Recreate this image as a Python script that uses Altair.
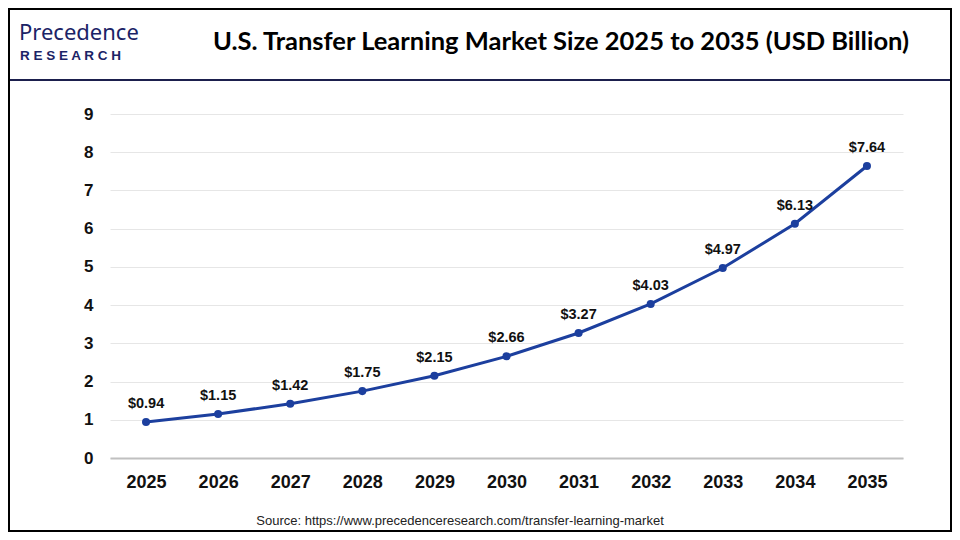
import altair as alt
import pandas as pd

years = ["2025", "2026", "2027", "2028", "2029", "2030", "2031", "2032", "2033", "2034", "2035"]
values = [0.94, 1.15, 1.42, 1.75, 2.15, 2.66, 3.27, 4.03, 4.97, 6.13, 7.64]
labels = ["$%.2f" % v for v in values]
y_ticks = [0, 1, 2, 3, 4, 5, 6, 7, 8, 9]

title_text = "U.S. Transfer Learning Market Size 2025 to 2035 (USD Billion)"
source_text = "Source: https://www.precedenceresearch.com/transfer-learning-market"

df = pd.DataFrame({"year": years, "value": values, "label": labels})

W, H = 793, 344
PL, PT, PR, PB = 102, 106, 49, 74
TOTW = W + PL + PR
TOTH = H + PT + PB

LINE = "#1c3f9e"

x_enc = alt.X("year:N", sort=years, title=None,
              scale=alt.Scale(paddingInner=0, paddingOuter=0),
              axis=alt.Axis(labelAngle=0, labelFontSize=18, labelFontWeight="bold",
                            labelFont="Liberation Sans", labelColor="#111111",
                            labelPadding=15, ticks=False, domain=True,
                            domainColor="#c0c0c0", domainWidth=2, grid=False))
y_enc = alt.Y("value:Q", title=None,
              scale=alt.Scale(domain=[0, 9], nice=False),
              axis=alt.Axis(values=y_ticks, labelFontSize=17, labelFontWeight="bold",
                            labelFont="Liberation Sans", labelColor="#111111",
                            labelPadding=17, ticks=False, domain=False,
                            grid=True, gridColor="#e6e6e6", gridWidth=1))

base = alt.Chart(df).encode(x=x_enc, y=y_enc)

line = base.mark_line(color=LINE, strokeWidth=3)
pts = base.mark_point(filled=True, color=LINE, size=65, opacity=1)
txt = base.mark_text(dy=-18, fontSize=14.5, fontWeight="bold", font="Liberation Sans",
                     color="#111111").encode(text="label:N")

deco = pd.DataFrame({"k": [0]})
dbase = alt.Chart(deco)

header_rule = dbase.mark_rule(color="#1b1f4d", strokeWidth=2).encode(
    x=alt.value(-PL), x2=alt.value(TOTW - PL), y=alt.value(80 - 8 - PT))
border = dbase.mark_rect(fill=None, stroke="#000000", strokeWidth=2).encode(
    x=alt.value(-PL + 1), x2=alt.value(TOTW - PL - 1),
    y=alt.value(-PT + 1), y2=alt.value(TOTH - PT - 1))
title = dbase.mark_text(text=title_text, font="Lato", fontWeight="bold", fontSize=25.5,
                        color="#000000", align="center", baseline="middle").encode(
    x=alt.value(561 - 8 - PL), y=alt.value(42 - 8 - PT))
logo1 = dbase.mark_text(text="Precedence", font="Noto Sans", fontSize=22, fontWeight="normal",
                        color="#1b2366", align="left", baseline="alphabetic").encode(
    x=alt.value(19 - 8 - PL), y=alt.value(40 - 8 - PT))
logo2 = dbase.mark_text(text="R  E  S  E  A  R  C  H", font="Liberation Sans", fontSize=13.5,
                        fontWeight="bold", color="#1b2366", align="left",
                        baseline="alphabetic").encode(
    x=alt.value(20 - 8 - PL), y=alt.value(60 - 8 - PT))
source = dbase.mark_text(text=source_text, font="Liberation Sans", fontSize=13,
                         color="#222222", align="center", baseline="middle").encode(
    x=alt.value(460 - 8 - PL), y=alt.value(521 - 8 - PT))

chart = alt.layer(line, pts, txt, header_rule, border, title, logo1, logo2, source).properties(
    width=W, height=H,
    autosize=alt.AutoSizeParams(type="none"),
    padding={"left": PL, "top": PT, "right": PR, "bottom": PB},
).configure(background="white").configure_view(stroke="transparent", strokeWidth=0)

chart.save("out.html", embed_options={"renderer": "svg", "actions": False})
